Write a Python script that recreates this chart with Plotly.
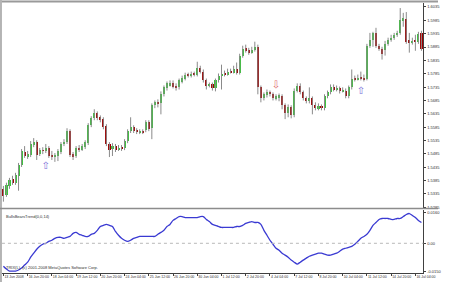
import plotly.graph_objects as go

# ---------------- data ----------------
bars = list(range(139))  # 4H bars, 13 Jun 2008 16:00 ...

open_ = [1.5354,1.5332,1.5365,1.5391,1.5377,1.5403,1.5443,1.5492,1.5473,1.5481,
         1.5518,1.5529,1.5484,1.5499,1.5496,1.5507,1.5481,1.5473,1.5477,1.5492,
         1.5522,1.5529,1.5570,1.5484,1.5477,1.5507,1.5499,1.5510,1.5525,1.5592,
         1.5618,1.5637,1.5622,1.5615,1.5589,1.5522,1.5503,1.5514,1.5499,1.5510,
         1.5507,1.5533,1.5570,1.5585,1.5574,1.5566,1.5570,1.5574,1.5603,1.5581,
         1.5667,1.5678,1.5674,1.5708,1.5730,1.5741,1.5752,1.5741,1.5734,1.5756,
         1.5767,1.5782,1.5778,1.5786,1.5782,1.5808,1.5793,1.5760,1.5741,1.5745,
         1.5730,1.5760,1.5778,1.5786,1.5782,1.5793,1.5789,1.5804,1.5789,1.5853,
         1.5882,1.5875,1.5864,1.5875,1.5886,1.5734,1.5693,1.5708,1.5715,1.5708,
         1.5693,1.5696,1.5700,1.5667,1.5637,1.5659,1.5629,1.5722,1.5741,1.5715,
         1.5693,1.5682,1.5693,1.5667,1.5656,1.5663,1.5656,1.5700,1.5715,1.5737,
         1.5726,1.5730,1.5719,1.5722,1.5700,1.5734,1.5767,1.5763,1.5771,1.5771,
         1.5767,1.5890,1.5912,1.5938,1.5890,1.5879,1.5875,1.5897,1.5912,1.5920,
         1.5931,1.5938,1.5983,1.5990,1.5908,1.5901,1.5908,1.5905,1.5938]

high = [1.5365,1.5377,1.5395,1.5403,1.5414,1.5451,1.5503,1.5514,1.5496,1.5533,
        1.5544,1.5536,1.5507,1.5510,1.5522,1.5514,1.5496,1.5488,1.5503,1.5529,
        1.5540,1.5581,1.5577,1.5492,1.5514,1.5518,1.5522,1.5536,1.5600,1.5626,
        1.5652,1.5644,1.5629,1.5622,1.5596,1.5529,1.5525,1.5522,1.5518,1.5518,
        1.5540,1.5577,1.5622,1.5592,1.5581,1.5577,1.5577,1.5611,1.5611,1.5674,
        1.5685,1.5689,1.5719,1.5741,1.5756,1.5760,1.5760,1.5749,1.5767,1.5778,
        1.5789,1.5789,1.5793,1.5793,1.5830,1.5815,1.5801,1.5767,1.5752,1.5752,
        1.5767,1.5786,1.5819,1.5797,1.5804,1.5804,1.5815,1.5827,1.5860,1.5890,
        1.5894,1.5882,1.5886,1.5905,1.5894,1.5741,1.5715,1.5726,1.5722,1.5715,
        1.5708,1.5711,1.5708,1.5674,1.5670,1.5667,1.5730,1.5749,1.5749,1.5722,
        1.5700,1.5734,1.5700,1.5678,1.5674,1.5670,1.5708,1.5722,1.5745,1.5745,
        1.5741,1.5737,1.5734,1.5730,1.5741,1.5801,1.5778,1.5782,1.5793,1.5782,
        1.5897,1.5938,1.5942,1.5957,1.5897,1.5886,1.5908,1.5920,1.5931,1.5938,
        1.5946,1.6031,1.6013,1.6016,1.5938,1.5920,1.5931,1.5942,1.5946]

low = [1.5306,1.5324,1.5354,1.5369,1.5369,1.5347,1.5436,1.5470,1.5466,1.5473,
       1.5510,1.5462,1.5477,1.5484,1.5488,1.5470,1.5462,1.5455,1.5458,1.5484,
       1.5514,1.5522,1.5473,1.5462,1.5470,1.5492,1.5496,1.5503,1.5518,1.5585,
       1.5611,1.5611,1.5603,1.5577,1.5514,1.5473,1.5477,1.5492,1.5496,1.5496,
       1.5499,1.5525,1.5563,1.5563,1.5559,1.5559,1.5559,1.5566,1.5570,1.5540,
       1.5656,1.5659,1.5633,1.5700,1.5722,1.5737,1.5730,1.5722,1.5726,1.5749,
       1.5760,1.5771,1.5771,1.5775,1.5775,1.5786,1.5752,1.5726,1.5734,1.5722,
       1.5719,1.5752,1.5726,1.5775,1.5778,1.5786,1.5786,1.5782,1.5782,1.5845,
       1.5864,1.5856,1.5860,1.5868,1.5708,1.5678,1.5685,1.5696,1.5700,1.5685,
       1.5685,1.5682,1.5652,1.5615,1.5622,1.5618,1.5622,1.5715,1.5708,1.5685,
       1.5674,1.5674,1.5633,1.5648,1.5648,1.5648,1.5648,1.5693,1.5708,1.5719,
       1.5719,1.5711,1.5715,1.5693,1.5693,1.5726,1.5756,1.5760,1.5760,1.5756,
       1.5760,1.5882,1.5886,1.5882,1.5871,1.5838,1.5853,1.5890,1.5905,1.5912,
       1.5923,1.5931,1.5961,1.5897,1.5864,1.5894,1.5871,1.5897,1.5871]

close = [1.5328,1.5369,1.5388,1.5377,1.5406,1.5443,1.5496,1.5477,1.5484,1.5522,
         1.5529,1.5481,1.5499,1.5496,1.5507,1.5477,1.5473,1.5481,1.5496,1.5522,
         1.5529,1.5570,1.5481,1.5473,1.5507,1.5499,1.5514,1.5529,1.5592,1.5618,
         1.5637,1.5618,1.5611,1.5585,1.5522,1.5499,1.5514,1.5499,1.5507,1.5503,
         1.5533,1.5570,1.5585,1.5570,1.5566,1.5570,1.5566,1.5603,1.5577,1.5667,
         1.5678,1.5670,1.5708,1.5734,1.5749,1.5752,1.5737,1.5730,1.5760,1.5771,
         1.5782,1.5778,1.5786,1.5782,1.5808,1.5793,1.5760,1.5741,1.5745,1.5730,
         1.5760,1.5778,1.5786,1.5782,1.5793,1.5789,1.5804,1.5789,1.5853,1.5879,
         1.5871,1.5864,1.5875,1.5886,1.5734,1.5693,1.5708,1.5715,1.5708,1.5693,
         1.5700,1.5704,1.5667,1.5637,1.5659,1.5629,1.5722,1.5741,1.5715,1.5693,
         1.5682,1.5696,1.5667,1.5656,1.5663,1.5656,1.5700,1.5715,1.5737,1.5726,
         1.5730,1.5719,1.5722,1.5700,1.5734,1.5767,1.5763,1.5771,1.5767,1.5763,
         1.5890,1.5912,1.5938,1.5890,1.5879,1.5860,1.5897,1.5912,1.5920,1.5931,
         1.5938,1.5987,1.5994,1.5905,1.5901,1.5908,1.5905,1.5935,1.5879]

osc = [-0.0120,-0.0135,-0.0146,-0.0146,-0.0146,-0.0140,-0.0130,-0.0114,-0.0099,-0.0073,
       -0.0052,-0.0031,-0.0016,-0.0005,0.0000,0.0010,0.0016,0.0026,0.0031,0.0031,
       0.0026,0.0031,0.0036,0.0052,0.0057,0.0047,0.0042,0.0036,0.0036,0.0047,
       0.0052,0.0068,0.0088,0.0094,0.0099,0.0094,0.0088,0.0062,0.0042,0.0026,
       0.0016,0.0010,0.0016,0.0026,0.0031,0.0036,0.0036,0.0036,0.0036,0.0036,
       0.0036,0.0047,0.0057,0.0068,0.0088,0.0099,0.0120,0.0130,0.0140,0.0140,
       0.0135,0.0135,0.0135,0.0135,0.0135,0.0140,0.0140,0.0125,0.0114,0.0099,
       0.0094,0.0088,0.0083,0.0083,0.0083,0.0083,0.0083,0.0088,0.0088,0.0094,
       0.0104,0.0109,0.0114,0.0109,0.0109,0.0099,0.0068,0.0042,0.0016,-0.0005,
       -0.0026,-0.0036,-0.0052,-0.0062,-0.0073,-0.0088,-0.0099,-0.0109,-0.0099,-0.0088,
       -0.0078,-0.0068,-0.0062,-0.0057,-0.0052,-0.0052,-0.0057,-0.0062,-0.0062,-0.0057,
       -0.0052,-0.0042,-0.0031,-0.0026,-0.0021,-0.0016,-0.0005,0.0010,0.0026,0.0036,
       0.0047,0.0068,0.0094,0.0109,0.0125,0.0130,0.0130,0.0130,0.0125,0.0125,
       0.0130,0.0130,0.0140,0.0151,0.0156,0.0146,0.0135,0.0120,0.0109]

up_signal_bars = [14, 118]
up_signal_prices = [1.5436, 1.5719]
down_signal_bars = [90]
down_signal_prices = [1.5741]

price_ticks = [1.6035, 1.5985, 1.5935, 1.5885, 1.5835, 1.5785, 1.5735, 1.5685,
               1.5635, 1.5585, 1.5535, 1.5485, 1.5435, 1.5385, 1.5335, 1.5285]
osc_ticks = [0.0160, 0.0, -0.0150]
osc_tick_text = ["0.0160", "0.00", "-0.0150"]

time_tick_bars = [0, 8, 16, 24, 32, 40, 48, 56, 64, 72, 80, 88, 96, 104, 112, 120, 128, 136]
time_tick_text = ["13 Jun 2008", "16 Jun 20:00", "18 Jun 04:00", "19 Jun 12:00",
                  "20 Jun 20:00", "24 Jun 04:00", "25 Jun 12:00", "26 Jun 20:00",
                  "30 Jun 04:00", "1 Jul 12:00", "2 Jul 20:00", "4 Jul 04:00",
                  "7 Jul 12:00", "8 Jul 20:00", "10 Jul 04:00", "11 Jul 12:00",
                  "14 Jul 20:00", "16 Jul 04:00"]

indicator_name = "BullsBearsTrend(0,0,14)"
footer_text = "TRIX(L), (c) 2001-2008 MetaQuotes Software Corp."

# ---------------- styling ----------------
W, H = 450, 284
GREEN = "#3cc43c"
RED = "#a00000"
WICK = "#8a8a8a"
AXIS = "#404040"
FONT = dict(family="Liberation Sans, Arial", size=4, color="#303030")
XFONT = dict(family="Liberation Sans, Arial", size=3.5, color="#303030")

xdom = [2 / W, 435 / W]
main_dom = [1 - 209 / H, 1 - 3 / H]
sub_dom = [1 - 275 / H, 1 - 211 / H]
xrange_ = [-0.48, 138.65]

body = [c - o for o, c in zip(open_, close)]
body_colors = [GREEN if c >= o else RED for o, c in zip(open_, close)]

fig = go.Figure()

fig.add_trace(go.Ohlc(
    x=bars, open=open_, high=high, low=low, close=close,
    tickwidth=0,
    increasing=dict(line=dict(color=WICK, width=1)),
    decreasing=dict(line=dict(color=WICK, width=1)),
    xaxis="x", yaxis="y", showlegend=False, hoverinfo="skip"))

fig.add_trace(go.Bar(
    x=bars, y=body, base=open_, width=0.68,
    marker=dict(color=body_colors, line=dict(width=0)),
    xaxis="x", yaxis="y", showlegend=False, hoverinfo="skip"))

fig.add_trace(go.Scatter(
    x=up_signal_bars, y=up_signal_prices, mode="text", text=["⇧"] * len(up_signal_bars),
    textfont=dict(family="DejaVu Sans", size=10, color="#7a6fd8"),
    xaxis="x", yaxis="y", showlegend=False, hoverinfo="skip"))
fig.add_trace(go.Scatter(
    x=down_signal_bars, y=down_signal_prices, mode="text", text=["⇩"] * len(down_signal_bars),
    textfont=dict(family="DejaVu Sans", size=10, color="#e06a6a"),
    xaxis="x", yaxis="y", showlegend=False, hoverinfo="skip"))

fig.add_trace(go.Scatter(
    x=bars, y=osc, mode="lines", line=dict(color="#3a3ad2", width=1.3, shape="spline", smoothing=0.6),
    xaxis="x2", yaxis="y2", showlegend=False, hoverinfo="skip"))

shapes = [
    dict(type="line", xref="paper", yref="y2", x0=xdom[0], x1=xdom[1], y0=0, y1=0,
         line=dict(color="#b8b8b8", width=1, dash="dot")),
    dict(type="line", xref="paper", yref="paper", x0=0, x1=1, y0=1 - 1.5 / H, y1=1 - 1.5 / H,
         line=dict(color="#9a9a9a", width=2)),
    dict(type="line", xref="paper", yref="paper", x0=1 / W, x1=1 / W, y0=0, y1=1,
         line=dict(color="#b4b4b4", width=2)),
    dict(type="line", xref="paper", yref="paper", x0=0, x1=1, y0=1 - 210 / H, y1=1 - 210 / H,
         line=dict(color="#8c8c8c", width=1.5)),
]

annotations = [
    dict(xref="paper", yref="paper", x=4 / W, y=1 - 213 / H, text=indicator_name,
         showarrow=False, xanchor="left", yanchor="top", font=FONT),
    dict(xref="paper", yref="paper", x=4 / W, y=1 - 274 / H, text=footer_text,
         showarrow=False, xanchor="left", yanchor="bottom", font=FONT),
]

fig.update_layout(
    width=W, height=H, margin=dict(l=0, r=0, t=0, b=0),
    paper_bgcolor="white", plot_bgcolor="white",
    showlegend=False, bargap=0, shapes=shapes, annotations=annotations,
    xaxis=dict(domain=xdom, anchor="y", range=xrange_, showticklabels=False,
               showgrid=False, zeroline=False, showline=False, ticks="",
               rangeslider=dict(visible=False), fixedrange=True),
    yaxis=dict(domain=main_dom, anchor="x", range=[1.5284, 1.6050], side="right",
               tickvals=price_ticks, ticktext=[f"{v:.4f}" for v in price_ticks],
               tickfont=FONT, ticks="outside", ticklen=2, tickcolor=AXIS,
               showline=True, linecolor=AXIS, linewidth=1,
               showgrid=False, zeroline=False),
    xaxis2=dict(domain=xdom, anchor="y2", range=xrange_,
                tickvals=time_tick_bars, ticktext=time_tick_text, tickfont=XFONT,
                tickangle=0, ticks="outside", ticklen=2, tickcolor=AXIS,
                ticklabelposition="outside right",
                showline=True, linecolor=AXIS, linewidth=1,
                showgrid=False, zeroline=False),
    yaxis2=dict(domain=sub_dom, anchor="x2", range=[-0.0156, 0.0177], side="right",
                tickvals=osc_ticks, ticktext=osc_tick_text, tickfont=FONT,
                ticks="outside", ticklen=2, tickcolor=AXIS,
                showline=True, linecolor=AXIS, linewidth=1,
                showgrid=False, zeroline=False),
)

fig.write_html("out.html")
